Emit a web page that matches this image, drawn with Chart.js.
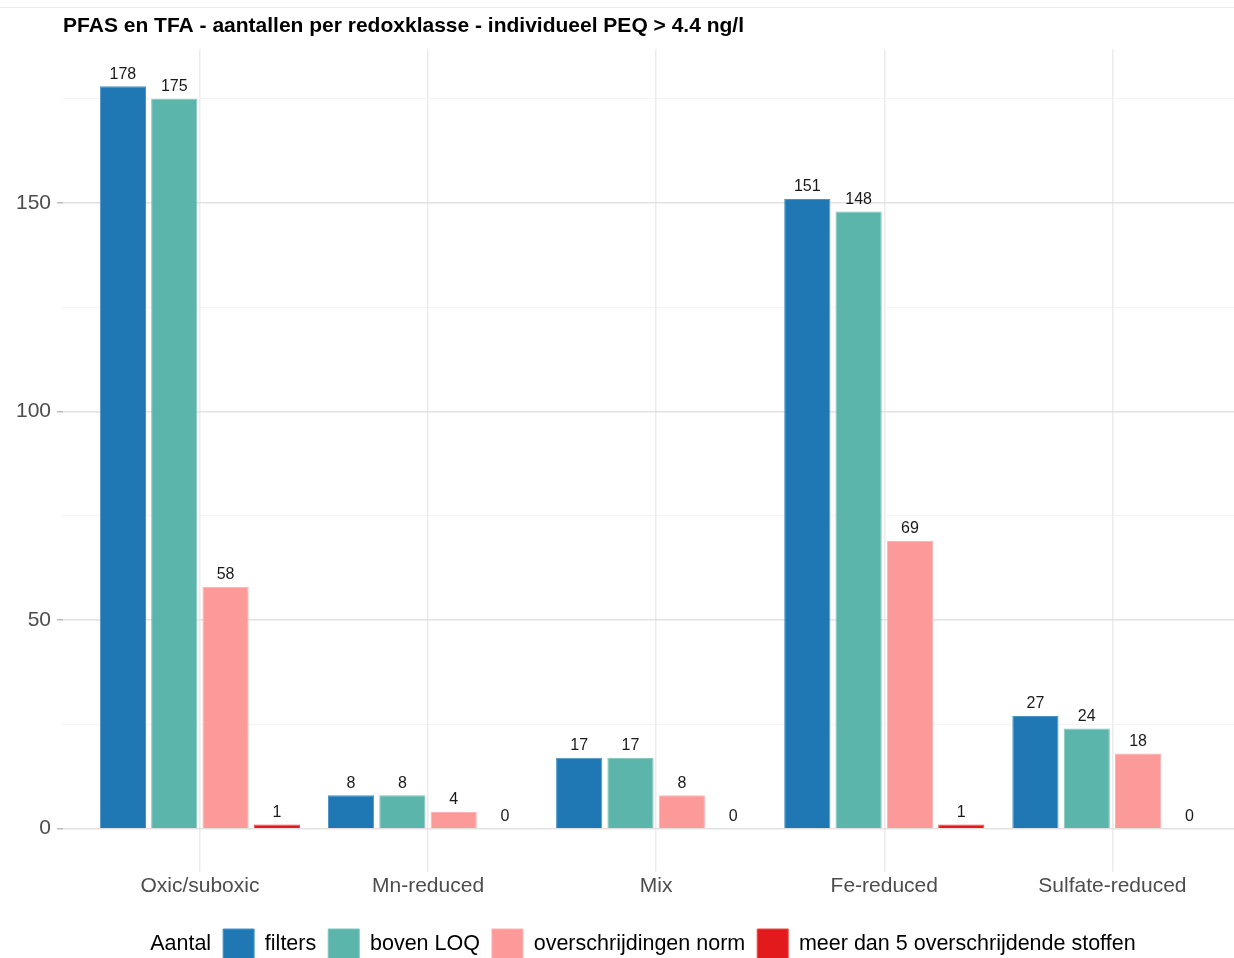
<!DOCTYPE html>
<html>
<head>
<meta charset="utf-8">
<script src="https://cdn.jsdelivr.net/npm/chart.js@4/dist/chart.umd.min.js"></script>
<style>
  html, body { margin: 0; padding: 0; background: #fff; overflow: hidden; }
  #wrap { position: relative; width: 1234px; height: 958px; overflow: hidden; }
  #topline { position: absolute; left: 0; right: 0; top: 7px; height: 1px; background: #ececec; }
  canvas { position: absolute; left: 0; top: 0; }
</style>
</head>
<body>
<div id="wrap">
  <div id="topline"></div>
  <canvas id="chart" width="1234" height="970"></canvas>
</div>
<script>
// data
const categories = ['Oxic/suboxic', 'Mn-reduced', 'Mix', 'Fe-reduced', 'Sulfate-reduced'];
const filters = [178, 8, 17, 151, 27];
const bovenLOQ = [175, 8, 17, 148, 24];
const overschrijdingen = [58, 4, 8, 69, 18];
const meerDan5 = [1, 0, 0, 1, 0];
const yTicks = [0, 25, 50, 75, 100, 125, 150, 175];

const seriesNames = ['filters', 'boven LOQ', 'overschrijdingen norm', 'meer dan 5 overschrijdende stoffen'];
const seriesColors = ['#1f78b4', '#5bb5ab', '#fb9a99', '#e31a1c'];
const seriesBorders = ['#4a93c4', '#7cc4bc', '#fcb3b2', '#e84a4b'];

function toPoints(values) {
  return values.map((v, i) => ({ x: i, y: v }));
}

const FONT = '"Liberation Sans", Arial, Helvetica, sans-serif';

// value labels on top of every bar
const valueLabels = {
  id: 'valueLabels',
  afterDatasetsDraw(chart) {
    const ctx = chart.ctx;
    ctx.save();
    ctx.font = '16px ' + FONT;
    ctx.fillStyle = '#1a1a1a';
    ctx.textAlign = 'center';
    ctx.textBaseline = 'bottom';
    chart.data.datasets.forEach((ds, di) => {
      const meta = chart.getDatasetMeta(di);
      meta.data.forEach((bar, i) => {
        ctx.fillText(String(ds.data[i].y), bar.x, bar.y - 4);
      });
    });
    ctx.restore();
  }
};

const datasets = [filters, bovenLOQ, overschrijdingen, meerDan5].map((vals, k) => ({
  label: seriesNames[k],
  data: toPoints(vals),
  backgroundColor: seriesColors[k],
  borderColor: seriesBorders[k],
  borderWidth: 1,
  categoryPercentage: 0.9,
  barPercentage: 0.9
}));

new Chart(document.getElementById('chart'), {
  type: 'bar',
  data: { datasets: datasets },
  plugins: [valueLabels],
  options: {
    responsive: false,
    animation: false,
    layout: { padding: { left: 10, right: 0, top: 0, bottom: 0 } },
    scales: {
      x: {
        type: 'linear',
        offset: false,
        min: -0.6,
        max: 4.533,
        afterBuildTicks: (scale) => { scale.ticks = categories.map((_, i) => ({ value: i })); },
        afterFit: (scale) => { scale.height += 16; },
        grid: { offset: false, color: '#ebebeb', lineWidth: 1.5, tickLength: 6, drawTicks: true },
        border: { display: false },
        ticks: {
          callback: (v) => categories[v],
          font: { family: FONT, size: 21 },
          color: '#4d4d4d',
          padding: 2,
          maxRotation: 0,
          autoSkip: false
        }
      },
      y: {
        min: -8.9,
        max: 186.9,
        afterBuildTicks: (scale) => { scale.ticks = yTicks.map(v => ({ value: v })); },
        grid: {
          color: (c) => (c.tick && c.tick.value % 50 === 0) ? '#e2e2e2' : '#f3f3f3',
          lineWidth: (c) => (c.tick && c.tick.value % 50 === 0) ? 1.5 : 1,
          tickColor: (c) => (c.tick && c.tick.value % 50 === 0) ? '#bdbdbd' : 'rgba(0,0,0,0)',
          tickLength: 6
        },
        border: { display: false },
        ticks: {
          callback: (v) => (v % 50 === 0 ? String(v) : ''),
          font: { family: FONT, size: 21 },
          color: '#4d4d4d',
          padding: 6
        }
      }
    },
    plugins: {
      title: {
        display: true,
        fullSize: false,
        text: 'PFAS en TFA - aantallen per redoxklasse - individueel PEQ > 4.4 ng/l',
        align: 'start',
        color: '#000',
        font: { family: FONT, size: 21, weight: 'bold' },
        padding: { top: 14, bottom: 10 }
      },
      legend: {
        position: 'bottom',
        labels: {
          font: { family: FONT, size: 21.5 },
          color: '#1a1a1a',
          boxWidth: 31,
          boxHeight: 31,
          padding: 12,
          generateLabels: (chart) => {
            const items = [{ text: 'Aantal', fillStyle: 'rgba(0,0,0,0)', strokeStyle: 'rgba(0,0,0,0)', lineWidth: 0, hidden: false, datasetIndex: -1 }];
            chart.data.datasets.forEach((ds, i) => {
              items.push({ text: ds.label, fillStyle: ds.backgroundColor, strokeStyle: ds.borderColor, lineWidth: 1, hidden: false, datasetIndex: i });
            });
            return items;
          }
        },
        onClick: () => {}
      },
      tooltip: { enabled: false }
    }
  }
});
</script>
</body>
</html>
